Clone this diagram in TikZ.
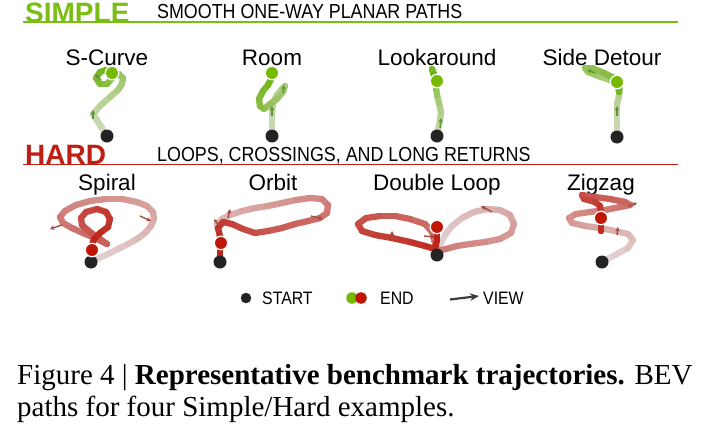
\documentclass[tikz,border=0pt]{standalone}
\usepackage{fontspec}
\setmainfont{Liberation Serif}
\newfontfamily\sansf{Liberation Sans}
\newfontfamily\narrowf[FakeStretch=0.88]{Liberation Sans}
\usetikzlibrary{arrows.meta}
\definecolor{sgreen}{RGB}{122,190,20}
\definecolor{hred}{RGB}{190,30,20}
\definecolor{gstart}{RGB}{205,218,185}
\definecolor{gend}{RGB}{110,178,20}
\definecolor{rstart}{RGB}{226,212,212}
\definecolor{rend}{RGB}{188,32,22}
\definecolor{dotblack}{RGB}{35,35,35}
\definecolor{enddotg}{RGB}{118,186,0}
\definecolor{enddotr}{RGB}{192,22,8}
\definecolor{garr}{RGB}{95,150,50}
\definecolor{rarr}{RGB}{165,75,65}
\definecolor{legarr}{RGB}{60,60,60}
\newcommand\trajpath[3]{%
  \foreach \p [count=\ti] in {#3} {\global\let\trajN\ti}%
  \foreach \p [count=\ti, remember=\p as \lastp (initially 0)] in {#3} {%
    \ifnum\ti>1
      \pgfmathtruncatemacro\pct{100*(\ti-2)/(\trajN-2)}%
      \draw[trajline, draw=#2!\pct!#1] \lastp -- \p;
    \fi
  }%
}
\begin{document}
\begin{tikzpicture}[x=1pt,y=-1pt,
  trajline/.style={line width=6.3pt, line cap=round, line join=round},
  startdot/.style={circle, fill=dotblack, inner sep=0pt, minimum size=13pt},
  enddot/.style={circle, draw=white, line width=1.3pt, inner sep=0pt, minimum size=13.5pt},
  viewarr/.style={-{Stealth[length=4.5pt,width=4.5pt]}, line width=1.4pt},
  title/.style={font=\sansf\fontsize{22.5}{26}\selectfont, anchor=base, inner sep=0pt},
  hdr/.style={font=\sansf\bfseries\fontsize{28}{32}\selectfont, anchor=base west, inner sep=0pt},
  subhdr/.style={font=\narrowf\fontsize{20.3}{24}\selectfont, anchor=base west, inner sep=0pt},
  leg/.style={font=\narrowf\fontsize{18}{22}\selectfont, anchor=base west, inner sep=0pt},
  capt/.style={font=\fontsize{29}{32}\selectfont, anchor=base west, inner sep=0pt}]
\useasboundingbox[fill=white] (0,0) rectangle (710,442);

% ---------- headers ----------
\node[hdr, text=sgreen] (hs) at (25,22) {SIMPLE};
\node[subhdr] (hss) at (157,18) {SMOOTH ONE-WAY PLANAR PATHS};
\coordinate (gl1) at (23,21.8); \coordinate (gl2) at (678,21.8);
\draw[sgreen, line width=1.8pt] (gl1) -- (gl2);

\node[hdr, text=hred] (hh) at (25,164) {HARD};
\node[subhdr] (hhs) at (157,161.5) {LOOPS, CROSSINGS, AND LONG RETURNS};
\coordinate (rl1) at (23,164.5); \coordinate (rl2) at (678,164.5);
\draw[hred, line width=1.8pt] (rl1) -- (rl2);

% ---------- titles ----------
\node[title] (t1) at (107,65) {S-Curve};
\node[title] (t2) at (272,65) {Room};
\node[title] (t3) at (437,65) {Lookaround};
\node[title] (t4) at (602,65) {Side Detour};
\node[title] (t5) at (107,190) {Spiral};
\node[title] (t6) at (273,190) {Orbit};
\node[title] (t7) at (437,190) {Double Loop};
\node[title] (t8) at (601,190) {Zigzag};

% ---------- simple trajectories ----------
\trajpath{gstart}{gend}{(107,136),(100,125),(93,114),(100,106),(110,97),(118,90),(122,84),(123,78),(119,74),(113,77),(107,84),(100,84),(96,78),(100,72),(106,70),(112,73)}
\draw[viewarr, garr] (93,119) -- (93,110);
\draw[viewarr, garr] (101,80) -- (95,74);

\trajpath{gstart}{gend}{(272,137),(272,125),(272,113),(273,103),(277,95),(282,89),(285,86),(283,92),(277,99),(270,104),(264,109),(260,106),(259,99),(263,91),(268,85),(271,79),(272,73)}
\draw[viewarr, garr] (272,116) -- (272,106);
\draw[viewarr, garr] (283,93) -- (284,85);

\trajpath{gstart}{gend}{(437,137),(438,129),(440,121),(441,112),(439,103),(437,95),(436,88),(435,80),(433,73),(432,69),(434,74),(437,81)}
\draw[viewarr, garr] (440,128) -- (441,118);

\trajpath{gstart}{gend}{(617,137),(617,125),(617,113),(617,104),(619,96),(620,88),(610,80),(598,76),(588,72),(585,68),(592,68),(604,73),(614,78),(619,84),(619,92),(618,86),(617,82)}
\draw[viewarr, garr] (617,116) -- (617,106);
\draw[viewarr, garr] (595,73) -- (587,70);

% ---------- hard trajectories ----------
\trajpath{rstart}{rend}{(91,262),(99,258),(108,254),(118,249),(128,244),(137,239),(145,233),(151,226),(154,219),(153,212),(147,206),(137,202),(122,199),(106,199),(90,201),(76,205),(65,211),(60,217),(63,223),(72,228),(83,233),(95,238),(107,244),(100,239),(90,232),(82,225),(81,218),(86,212),(97,209),(106,212),(110,219),(108,227),(100,233),(94,239),(92,245),(92,250)}
\draw[viewarr, rarr] (62,225) -- (50,229);
\draw[viewarr, rarr] (140,216) -- (151,221);

\trajpath{rstart}{rend}{(220,262),(220,252),(220,242),(219,233),(217,225),(222,219),(230,215),(242,211),(255,208),(268,206),(282,203),(296,200),(310,198),(322,199),(328,205),(327,213),(320,218),(308,221),(295,224),(282,228),(268,231),(255,233),(243,229),(232,224),(223,222),(218,228),(220,236),(220,256),(220,249),(221,243)}
\draw[viewarr, rarr] (228,218) -- (230,209);
\draw[viewarr, rarr] (219,226) -- (214,219);
\draw[viewarr, rarr] (311,216) -- (323,219);

\trajpath{rstart}{rend}{(437,255),(440,245),(445,235),(452,226),(462,218),(474,212),(487,209),(500,210),(510,215),(514,224),(511,233),(500,239),(485,242),(470,244),(457,246),(446,249),(437,251),(432,232),(425,224),(410,219),(395,216),(380,216),(366,218),(358,224),(362,231),(375,235),(392,238),(410,242),(425,246),(435,249),(437,240),(437,228)}
\draw[viewarr, rarr] (492,212) -- (481,206);
\draw[viewarr, rarr] (392,240) -- (392,231);
\draw[viewarr, rarr] (424,236) -- (435,237);

\trajpath{rstart}{rend}{(602,262),(615,255),(628,248),(633,240),(628,234),(615,231),(600,228),(585,226),(572,223),(569,218),(576,214),(590,212),(605,210),(620,207),(630,205),(625,202),(610,199),(595,197),(582,195),(584,199),(595,202),(600,206),(601,215),(601,231),(601,224),(601,218)}
\draw[viewarr, rarr] (617,235) -- (618,227);
\draw[viewarr, rarr] (628,206) -- (637,203);

% ---------- dots ----------
\node[startdot] (s1) at (107,136) {};
\node[startdot] (s2) at (272,136) {};
\node[startdot] (s3) at (437,136) {};
\node[startdot] (s4) at (617,137) {};
\node[enddot, fill=enddotg] (e1) at (112,73) {};
\node[enddot, fill=enddotg] (e2) at (272,73) {};
\node[enddot, fill=enddotg] (e3) at (437,81) {};
\node[enddot, fill=enddotg] (e4) at (617,82) {};

\node[startdot] (s5) at (91,262) {};
\node[startdot] (s6) at (220,262) {};
\node[startdot] (s7) at (437,255) {};
\node[startdot] (s8) at (602,262) {};
\node[enddot, fill=enddotr] (e5) at (92,250) {};
\node[enddot, fill=enddotr] (e6) at (221,243) {};
\node[enddot, fill=enddotr] (e7) at (437,227) {};
\node[enddot, fill=enddotr] (e8) at (601,218) {};

% ---------- legend ----------
\node[startdot, minimum size=10.5pt] (ls) at (246,298) {};
\node[leg] (lst) at (262,304.5) {START};
\node[circle, fill=enddotg, inner sep=0pt, minimum size=11.5pt] (lg) at (352,298) {};
\node[circle, fill=enddotr, inner sep=0pt, minimum size=11.5pt] (lr) at (361,298) {};
\node[leg] (len) at (380,304.5) {END};
\coordinate (va) at (450,299.5); \coordinate (vb) at (479,296);
\draw[legarr, line width=2.2pt, -{Stealth[length=9pt,width=7.5pt]}] (va) -- (vb);
\node[leg] (lvw) at (483,304.5) {VIEW};

% ---------- caption ----------
\node[capt] (c1) at (17,384) {Figure 4 | \textbf{Representative benchmark trajectories.} BEV};
\node[capt] (c2) at (17,416) {paths for four Simple/Hard examples.};
\end{tikzpicture}
\end{document}
